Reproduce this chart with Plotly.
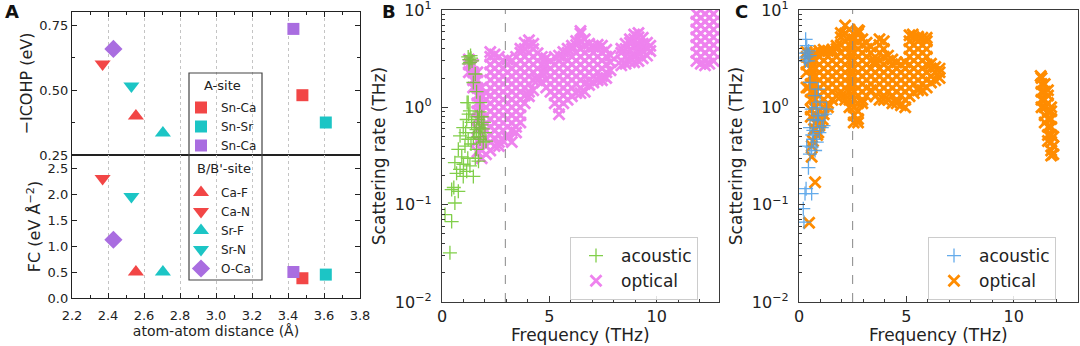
import plotly.graph_objects as go

# ---------------- Panel A data ----------------
A_labels = ["Sn-Ca", "Sn-Sr", "Sn-Ca", "Ca-F", "Ca-N", "Sr-F", "Sr-N", "O-Ca"]
A_site = ["A", "A", "A", "B", "B", "B", "B", "B"]
A_dist = [3.48, 3.61, 3.43, 2.555, 2.37, 2.705, 2.53, 2.43]
A_icohp = [0.48, 0.375, 0.735, 0.40, 0.60, 0.335, 0.515, 0.658]
A_fc = [0.38, 0.45, 0.50, 0.50, 2.30, 0.50, 1.95, 1.12]

# ---------------- Panel B data ----------------
B_cutoff = 2.95
B_acoustic = [
    (1.27, 3.1), (1.22, 3.3), (1.35, 3.2), (1.30, 2.9), (1.40, 3.0), (1.25, 2.8), (1.33, 3.4),
    (1.22, 1.12), (1.30, 0.92), (1.15, 0.75), (1.38, 0.70), (0.99, 0.62), (1.61, 0.59),
    (0.84, 0.51), (1.46, 0.49), (1.22, 0.47), (1.07, 0.40), (0.76, 0.37), (1.77, 0.47),
    (1.61, 0.37), (0.92, 0.31), (0.60, 0.27), (0.84, 0.23), (1.15, 0.22), (1.46, 0.195),
    (1.30, 0.25), (0.68, 0.21), (0.99, 0.195), (0.45, 0.143), (0.76, 0.137), (0.60, 0.104),
    (0.14, 0.079), (0.45, 0.067), (0.37, 0.032), (1.69, 0.75), (1.84, 0.66), (1.53, 0.55),
    (1.92, 0.44), (1.75, 0.90), (1.46, 1.8), (1.61, 1.45), (1.77, 1.12), (1.55, 2.2),
    (1.65, 0.80), (1.80, 0.55), (1.70, 0.50), (1.50, 0.62), (1.90, 0.60), (1.10, 0.55),
    (1.35, 0.42), (1.20, 0.30), (0.55, 0.15), (1.00, 0.26), (1.55, 0.30), (1.70, 0.28),
    (1.85, 0.80), (2.00, 0.55), (1.95, 0.70), (2.05, 0.45), (1.75, 0.62), (1.17, 1.12),
    (1.24, 0.85),
]
B_opt_col_x = [1.25, 1.45, 1.65, 1.85, 2.05, 2.25, 2.45, 2.65, 2.85, 3.05, 3.25, 3.45,
               3.65, 3.85, 4.05, 4.25, 4.45, 4.65, 4.85, 5.05, 5.25, 5.45, 5.65, 5.85,
               6.05, 6.25, 6.45, 6.65, 6.85, 7.05, 7.25, 7.45, 7.65, 7.85, 8.35, 8.55,
               8.75, 8.95, 9.15, 9.35, 9.55, 9.7, 11.85, 12.05, 12.25, 12.45, 12.65]
B_opt_col_y = [
    [2.3, 2.75, 3.1],
    [1.6, 1.9, 2.3, 2.75],
    [0.35, 0.45, 0.6, 0.76, 0.91, 1.1, 1.32, 1.58, 1.91, 2.3],
    [0.3, 0.36, 0.44, 0.52, 0.63, 0.76, 0.91, 1.1, 1.32, 1.6],
    [0.33, 0.40, 0.48, 0.58, 0.69, 0.83, 1.0, 1.2, 1.4],
    [0.36, 0.44, 0.52, 0.63, 0.76, 0.91, 1.1, 1.32, 1.58, 1.91, 2.29, 2.75, 3.31, 3.7],
    [0.40, 0.48, 0.58, 0.69, 0.83, 1.0, 1.2, 1.45, 1.74, 2.09, 2.51, 3.02, 3.5],
    [0.40, 0.44, 0.52, 0.63, 0.76, 0.91, 1.1, 1.32, 1.58, 1.91, 2.29, 2.75, 3.3],
    [0.45, 0.58, 0.69, 0.83, 1.0, 1.2, 1.45, 1.74, 2.09, 2.51, 3.02],
    [0.48, 0.52, 0.63, 0.76, 0.91, 1.1, 1.32, 1.58, 1.91, 2.29, 2.75, 3.1],
    [0.44, 0.58, 0.69, 0.83, 1.0, 1.2, 1.45, 1.74, 2.09, 2.51, 3.0],
    [0.55, 0.63, 0.76, 0.91, 1.1, 1.32, 1.58, 1.91, 2.29, 2.75, 3.3],
    [0.70, 0.83, 1.0, 1.2, 1.45, 1.74, 2.09, 2.51, 3.02, 3.63, 4.0],
    [1.1, 1.32, 1.58, 1.91, 2.29, 2.75, 3.31, 3.98, 4.6],
    [1.3, 1.45, 1.74, 2.09, 2.51, 3.02, 3.63, 4.37, 4.9],
    [1.5, 1.91, 2.29, 2.75, 3.31, 3.98, 4.5],
    [1.9, 2.09, 2.51, 3.02, 3.6],
    [1.8, 2.29, 2.75, 3.3],
    [1.6, 1.91, 2.29, 2.75, 3.2],
    [1.45, 1.74, 2.09, 2.51, 3.0],
    [1.1, 1.32, 1.58, 1.91, 2.29, 2.75, 3.3],
    [0.85, 1.0, 1.2, 1.45, 1.74, 2.09, 2.51, 3.0, 3.4],
    [1.1, 1.32, 1.58, 1.91, 2.29, 2.75, 3.31, 3.7],
    [1.2, 1.45, 1.74, 2.09, 2.51, 3.02, 3.63, 4.0],
    [1.3, 1.58, 1.91, 2.29, 2.75, 3.31, 3.98, 4.3],
    [1.4, 1.74, 2.09, 2.51, 3.02, 3.63, 4.37, 4.8],
    [1.4, 1.58, 1.91, 2.29, 2.75, 3.31, 3.98, 4.79, 5.75, 6.1],
    [1.45, 1.74, 2.09, 2.51, 3.02, 3.63, 4.37, 5.0],
    [1.7, 1.91, 2.29, 2.75, 3.31, 3.98, 4.5],
    [1.8, 2.09, 2.51, 3.02, 3.63, 4.2],
    [1.9, 2.29, 2.75, 3.31, 3.98, 4.4],
    [1.9, 2.09, 2.51, 3.02, 3.63, 4.3],
    [2.0, 2.29, 2.75, 3.31, 3.9],
    [2.4, 2.9, 3.4],
    [2.7, 3.02, 3.63, 4.0],
    [2.8, 3.31, 3.98, 4.5],
    [2.9, 3.3, 3.9, 4.6, 5.0],
    [2.9, 3.5, 4.2, 5.0, 5.6],
    [3.0, 3.63, 4.37, 5.25, 5.8],
    [3.2, 3.8, 4.5, 5.2],
    [3.4, 3.98, 4.6],
    [3.8, 4.3],
    [3.0, 3.63, 4.37, 5.25, 6.31, 7.59, 9.12],
    [2.8, 3.31, 3.98, 4.79, 5.75, 6.92, 8.32, 10.0],
    [2.7, 3.02, 3.63, 4.37, 5.25, 6.31, 7.59, 9.12],
    [2.8, 3.31, 3.98, 4.79, 5.75, 6.92, 8.32, 10.0],
    [3.0, 3.63, 4.37, 5.25, 6.31, 7.59, 9.12],
]

# ---------------- Panel C data ----------------
C_cutoff = 2.5
C_acoustic = [
    (0.31, 5.0), (0.36, 4.3), (0.28, 3.6), (0.35, 3.3), (0.42, 3.0), (0.50, 3.4), (0.30, 3.0),
    (0.45, 3.8), (0.38, 3.6), (0.25, 3.2), (0.51, 1.8), (0.90, 1.54), (0.75, 1.32),
    (0.59, 0.96), (0.98, 1.13), (0.90, 0.82), (0.51, 0.62), (0.67, 0.58), (1.06, 0.62),
    (0.86, 0.73), (1.21, 0.85), (1.29, 0.96), (0.80, 1.0), (0.70, 0.75), (0.36, 0.40),
    (0.59, 0.39), (0.75, 0.36), (0.51, 0.33), (0.44, 0.24), (0.33, 0.146), (0.28, 0.13),
    (0.59, 0.13), (0.20, 0.091), (0.23, 0.066), (0.67, 0.47), (0.83, 0.44), (1.14, 0.65),
    (0.95, 0.55), (0.62, 0.52),
]
C_opt_extra = [
    (0.44, 1.6), (0.59, 0.31), (0.75, 0.17), (0.47, 0.065), (2.8, 6.1), (5.3, 5.6),
    (11.26, 2.1), (0.65, 0.45), (0.85, 0.52), (1.0, 0.7), (0.6, 0.4), (0.9, 0.55),
    (1.1, 0.75), (0.7, 0.6),
]
C_opt_col_x = [0.35, 0.55, 0.75, 0.95, 1.15, 1.35, 1.55, 1.75, 1.95, 2.15, 2.35, 2.55,
               2.75, 2.95, 3.15, 3.35, 3.55, 3.75, 3.95, 4.15, 4.35, 4.55, 4.75, 4.95,
               5.15, 5.35, 5.55, 5.75, 5.95, 6.15, 6.35, 6.55, 11.3, 11.45, 11.6, 11.75, 11.85]
C_opt_col_y = [
    [1.6, 2.3, 2.75, 3.3, 3.7],
    [0.8, 0.95, 1.2, 1.45, 1.74, 2.09, 2.51, 3.02, 3.63],
    [0.6, 0.69, 0.83, 1.0, 1.2, 1.45, 1.74, 2.09, 2.51, 3.02, 3.63],
    [0.65, 0.76, 0.91, 1.1, 1.32, 1.58, 1.91, 2.29, 2.75, 3.31, 3.8],
    [0.85, 1.0, 1.2, 1.45, 1.74, 2.09, 2.51, 3.02, 3.63, 3.9],
    [1.0, 1.1, 1.32, 1.58, 1.91, 2.29, 2.75, 3.31, 3.8],
    [1.2, 1.45, 1.74, 2.09, 2.51, 3.02, 3.63, 3.9],
    [1.3, 1.58, 1.91, 2.29, 2.75, 3.31, 3.98, 4.3],
    [1.3, 1.45, 1.74, 2.09, 2.51, 3.02, 3.63, 4.37, 5.25, 5.8],
    [1.2, 1.32, 1.58, 1.91, 2.29, 2.75, 3.31, 3.98, 4.79, 5.75, 6.92],
    [1.0, 1.2, 1.45, 1.74, 2.09, 2.51, 3.02, 3.63, 4.37, 5.25, 6.31],
    [0.7, 0.83, 1.0, 1.2, 1.45, 1.74, 2.09, 2.51, 3.02, 3.63, 4.37, 5.0],
    [0.7, 0.76, 0.91, 1.1, 1.32, 1.58, 1.91, 2.29, 2.75, 3.31, 3.98, 4.79, 5.75, 6.2],
    [1.1, 1.2, 1.45, 1.74, 2.09, 2.51, 3.02, 3.63, 4.37, 5.0],
    [1.3, 1.58, 1.91, 2.29, 2.75, 3.31, 3.98, 4.6],
    [1.5, 1.74, 2.09, 2.51, 3.02, 3.63, 4.2],
    [1.3, 1.58, 1.91, 2.29, 2.75, 3.0],
    [1.2, 1.45, 1.74, 2.09, 2.51, 3.02, 3.63, 4.37, 5.0],
    [1.2, 1.32, 1.58, 1.91, 2.29, 2.75, 3.31, 3.98, 4.79],
    [1.2, 1.45, 1.74, 2.09, 2.51, 3.02, 3.4],
    [1.1, 1.32, 1.58, 1.91, 2.29, 2.75, 3.1],
    [1.1, 1.2, 1.45, 1.74, 2.09, 2.51, 2.9],
    [1.05, 1.32, 1.58, 1.91, 2.29, 2.75],
    [1.0, 1.2, 1.45, 1.74, 2.09, 2.51, 2.9],
    [1.3, 1.58, 1.91, 2.29, 2.75, 3.31, 3.98, 4.79, 5.5],
    [1.4, 1.74, 2.09, 2.51, 3.02, 3.63, 4.37, 5.25],
    [1.5, 1.58, 1.91, 2.29, 2.75, 3.31, 3.98, 4.79, 5.3],
    [1.5, 1.74, 2.09, 2.51, 3.02, 3.63, 4.37, 5.2],
    [1.6, 1.91, 2.29, 2.75, 3.31, 3.98, 4.79, 5.2],
    [1.8, 2.09, 2.51, 2.8],
    [1.9, 2.29, 2.6],
    [2.0, 2.3, 2.5],
    [1.0, 1.2, 1.45, 1.74, 2.0],
    [0.7, 0.83, 1.0, 1.2, 1.45, 1.74],
    [0.45, 0.52, 0.63, 0.76, 0.91, 1.1, 1.32, 1.5],
    [0.32, 0.36, 0.44, 0.52, 0.63, 0.76, 0.91, 1.0],
    [0.33, 0.4, 0.5],
]

assert len(B_opt_col_x) == len(B_opt_col_y)
assert len(C_opt_col_x) == len(C_opt_col_y)


def flatten_cols(cx, cy):
    xs, ys = [], []
    for x, col in zip(cx, cy):
        for y in col:
            xs.append(x)
            ys.append(y)
    return xs, ys


B_opt_x, B_opt_y = flatten_cols(B_opt_col_x, B_opt_col_y)
C_opt_x, C_opt_y = flatten_cols(C_opt_col_x, C_opt_col_y)
C_opt_x += [p[0] for p in C_opt_extra]
C_opt_y += [p[1] for p in C_opt_extra]

# ---------------- styles ----------------
RED, CYAN, PURPLE = "#f24646", "#1cc5c5", "#a96de0"
A_colors = [RED, CYAN, PURPLE, RED, RED, CYAN, CYAN, PURPLE]
A_symbols = ["square", "square", "square", "triangle-up", "triangle-down",
             "triangle-up", "triangle-down", "diamond"]
A_sizes = [12, 12, 12, 14, 14, 14, 14, 14]
GREEN, VIOLET = "#6cc72b", "#ee82ee"
BLUE, ORANGE = "#4a9de8", "#ff8c00"
FONT = "DejaVu Sans"
W, H = 1080, 346


def px_x(p):
    return p / W


def px_y(p):
    return 1 - p / H


fig = go.Figure()

# Panel A traces
for i in range(len(A_labels)):
    leg = "legend" if A_site[i] == "A" else "legend4"
    mk = dict(symbol=A_symbols[i], size=A_sizes[i], color=A_colors[i], line=dict(width=0))
    fig.add_trace(go.Scatter(x=[A_dist[i]], y=[A_icohp[i]], mode="markers", marker=mk,
                             name=A_labels[i], legend=leg, xaxis="x", yaxis="y"))
    fig.add_trace(go.Scatter(x=[A_dist[i]], y=[A_fc[i]], mode="markers", marker=mk,
                             name=A_labels[i], showlegend=False, xaxis="x2", yaxis="y2"))


def xthin(color):
    return dict(symbol="x-thin", size=11, color=color, line=dict(width=2.8, color=color))


def cross(color):
    return dict(symbol="cross-thin", size=10, color=color, line=dict(width=1.3, color=color))


# Panel B
fig.add_trace(go.Scatter(x=B_opt_x, y=B_opt_y, mode="markers", marker=xthin(VIOLET),
                         opacity=1.0, name="optical", legend="legend2", legendrank=2,
                         xaxis="x3", yaxis="y3"))
fig.add_trace(go.Scatter(x=[p[0] for p in B_acoustic], y=[p[1] for p in B_acoustic],
                         mode="markers", marker=cross(GREEN), opacity=0.85, name="acoustic",
                         legend="legend2", legendrank=1, xaxis="x3", yaxis="y3"))
# Panel C
fig.add_trace(go.Scatter(x=C_opt_x, y=C_opt_y, mode="markers", marker=xthin(ORANGE),
                         opacity=1.0, name="optical", legend="legend3", legendrank=2,
                         xaxis="x4", yaxis="y4"))
fig.add_trace(go.Scatter(x=[p[0] for p in C_acoustic], y=[p[1] for p in C_acoustic],
                         mode="markers", marker=cross(BLUE), opacity=0.85, name="acoustic",
                         legend="legend3", legendrank=1, xaxis="x4", yaxis="y4"))

AX = "#222"
A_dom_x = [px_x(72), px_x(360)]
axA_x = dict(range=[2.2, 3.8], dtick=0.2, tick0=2.2, tickformat=".1f", ticks="inside",
             ticklen=5, tickcolor=AX, showline=True, linecolor=AX, linewidth=1.3,
             showgrid=True, gridcolor="#c4c4c4", griddash="dot", gridwidth=1,
             zeroline=False, tickfont=dict(size=13, color=AX), domain=A_dom_x,
             ticklabelstandoff=5, automargin=False,
             minor=dict(dtick=0.1, ticks="inside", ticklen=3, tickcolor=AX, showgrid=False))
axA_y = dict(ticks="inside", ticklen=5, tickcolor=AX, showline=True, linecolor=AX,
             linewidth=1.3, showgrid=False, zeroline=False, mirror="ticks", automargin=False,
             tickfont=dict(size=13, color=AX), title_font=dict(size=16, color=AX))

log_minor = [0.02, 0.03, 0.04, 0.05, 0.06, 0.07, 0.08, 0.09,
             0.2, 0.3, 0.4, 0.5, 0.6, 0.7, 0.8, 0.9,
             2, 3, 4, 5, 6, 7, 8, 9]
LC = "#3a3a3a"
axBC_y = dict(type="log", range=[-2.0003, 1.0003], tickmode="array",
              tickvals=[0.01, 0.1, 1, 10],
              ticktext=["10<sup>−2</sup>", "10<sup>−1</sup>", "10<sup>0</sup>", "10<sup>1</sup>"],
              ticks="inside", ticklen=6, tickcolor=LC, showline=True, linecolor=LC,
              linewidth=1.3, mirror=True, showgrid=False, zeroline=False,
              tickfont=dict(size=16, color="#222"), ticklabelstandoff=6,
              ticklabeloverflow="allow", automargin=False,
              title=dict(text="Scattering rate (THz)", font=dict(size=17, color="#222"), standoff=4),
              minor=dict(tickmode="array", tickvals=log_minor, ticks="inside", ticklen=3,
                         tickcolor=LC, showgrid=False))
axBC_x = dict(dtick=5, tick0=0, ticks="inside", ticklen=6, tickcolor=LC, showline=True,
              linecolor=LC, linewidth=1.3, mirror=True, showgrid=False, zeroline=False,
              tickfont=dict(size=16, color="#222"), ticklabelstandoff=0, automargin=False,
              minor=dict(dtick=1, ticks="inside", ticklen=3, tickcolor=LC, showgrid=False))

fig.update_layout(
    width=W, height=H, margin=dict(l=0, r=0, t=0, b=0, autoexpand=False),
    paper_bgcolor="white", plot_bgcolor="white",
    font=dict(family=FONT, color="#222"),
    xaxis=dict(axA_x, anchor="y", side="top", showticklabels=False, mirror=True),
    yaxis=dict(axA_y, domain=[px_y(155), px_y(12)], range=[0.25, 0.80], dtick=0.25,
               tick0=0.25, tickformat=".2f", anchor="x",
               title=dict(text="−ICOHP (eV)", standoff=2),
               minor=dict(dtick=0.125, ticks="inside", ticklen=3, tickcolor=AX)),
    xaxis2=dict(axA_x, anchor="y2", mirror=True,
                title=dict(text="atom-atom distance (Å)", font=dict(size=14, color=AX), standoff=2)),
    yaxis2=dict(axA_y, domain=[px_y(298), px_y(155)], range=[0, 2.75], dtick=0.5, tick0=0,
                tickformat=".1f", anchor="x2",
                title=dict(text="FC (eV Å<sup>−2</sup>)", standoff=2)),
    xaxis3=dict(axBC_x, domain=[px_x(442), px_x(719)], range=[0, 12.9], anchor="y3"),
    yaxis3=dict(axBC_y, domain=[px_y(302), px_y(10)], anchor="x3"),
    xaxis4=dict(axBC_x, domain=[px_x(799), px_x(1078)], range=[0, 13], anchor="y4"),
    yaxis4=dict(axBC_y, domain=[px_y(302), px_y(10)], anchor="x4"),
    legend=dict(x=px_x(181), y=px_y(93), xanchor="left", yanchor="top",
                bgcolor="rgba(0,0,0,0)", borderwidth=0, font=dict(size=12, color=AX),
                itemwidth=30, tracegroupgap=0),
    legend4=dict(x=px_x(181), y=px_y(178), xanchor="left", yanchor="top",
                 bgcolor="rgba(0,0,0,0)", borderwidth=0, font=dict(size=12, color=AX),
                 itemwidth=30, tracegroupgap=0),
    legend2=dict(x=px_x(570), y=px_y(237), xanchor="left", yanchor="top",
                 bgcolor="rgba(255,255,255,0.85)", bordercolor="#cccccc", borderwidth=1,
                 font=dict(size=17, color="#222"), itemwidth=40),
    legend3=dict(x=px_x(928), y=px_y(237), xanchor="left", yanchor="top",
                 bgcolor="rgba(255,255,255,0.85)", bordercolor="#cccccc", borderwidth=1,
                 font=dict(size=17, color="#222"), itemwidth=40),
)

# x-axis titles for panels B and C
for xc in [(442 + 719) / 2, (799 + 1078) / 2]:
    fig.add_annotation(text="Frequency (THz)", xref="paper", yref="paper", x=px_x(xc),
                       y=px_y(335), xanchor="center", yanchor="middle", showarrow=False,
                       font=dict(size=17, color="#222"))

# legend box in panel A and section titles
fig.add_shape(type="rect", xref="paper", yref="paper", x0=px_x(189), x1=px_x(262),
              y0=px_y(280), y1=px_y(73), line=dict(color="#444", width=1.2),
              fillcolor="rgba(0,0,0,0)")
fig.add_annotation(text="A-site", xref="paper", yref="paper", x=px_x(202), y=px_y(85),
                   xanchor="left", yanchor="middle", showarrow=False,
                   font=dict(size=13, color=AX))
fig.add_annotation(text="B/B'-site", xref="paper", yref="paper", x=px_x(195), y=px_y(168),
                   xanchor="left", yanchor="middle", showarrow=False,
                   font=dict(size=13, color=AX))

# cutoff dashed lines
fig.add_shape(type="line", xref="x3", yref="y3 domain", x0=B_cutoff, x1=B_cutoff, y0=0, y1=1,
              line=dict(color="#888", width=1, dash="dash"))
fig.add_shape(type="line", xref="x4", yref="y4 domain", x0=C_cutoff, x1=C_cutoff, y0=0, y1=1,
              line=dict(color="#888", width=1, dash="dash"))

# panel labels
for lab, xp in [("A", 3), ("B", 380), ("C", 733)]:
    fig.add_annotation(text="<b>%s</b>" % lab, xref="paper", yref="paper", x=px_x(xp),
                       y=px_y(12), xanchor="left", yanchor="middle", showarrow=False,
                       font=dict(size=18, color="#111"))

fig.write_html("out.html")
